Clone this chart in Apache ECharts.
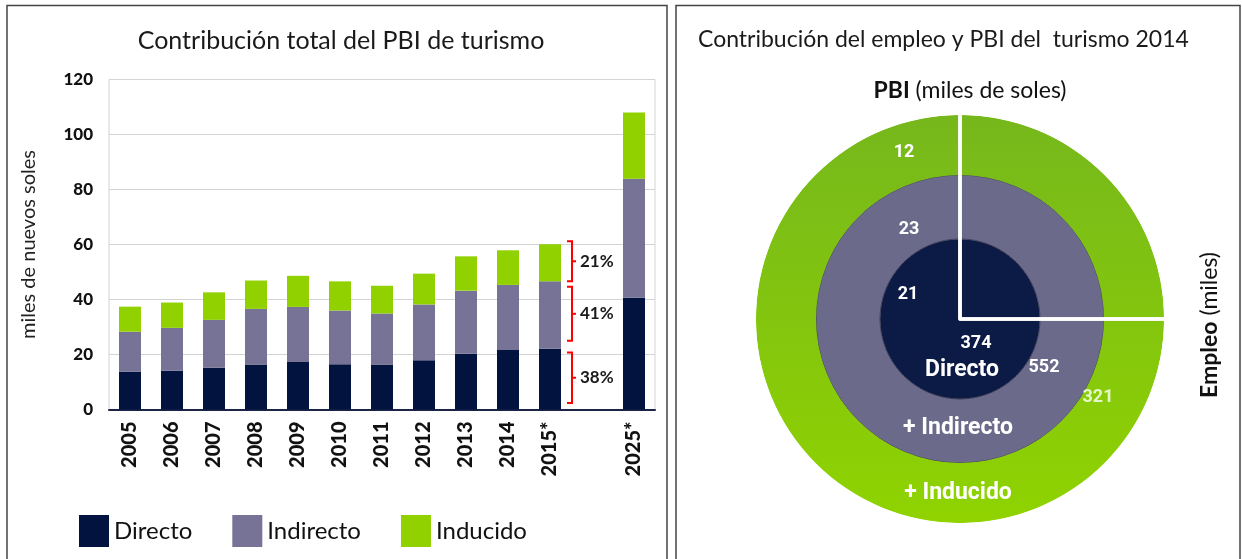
<!DOCTYPE html>
<html>
<head>
<meta charset="utf-8">
<script src="https://cdn.jsdelivr.net/npm/echarts@6/dist/echarts.min.js"></script>
<style>
  html, body { margin: 0; padding: 0; background: #fff; }
  #main { width: 1242px; height: 559px; }
</style>
</head>
<body>
<div id="main"></div>
<script>
// --- left chart data (miles de nuevos soles) ---
const years = ['2005', '2006', '2007', '2008', '2009', '2010', '2011', '2012', '2013', '2014', '2015*', '', '2025*'];
const directo = [13.7, 14.1, 15.2, 16.4, 17.3, 16.5, 16.4, 17.9, 20.3, 21.6, 22.1, '-', 40.6];
const indirecto = [14.6, 15.6, 17.4, 20.2, 20.0, 19.5, 18.5, 20.3, 22.9, 23.7, 24.5, '-', 43.3];
const inducido = [9.1, 9.2, 10.0, 10.3, 11.3, 10.6, 10.1, 11.2, 12.5, 12.6, 13.5, '-', 24.1];

// red brackets next to 2015
const shareLabels = ['38%', '41%', '21%'];
const shareLow = [2.4, 25.0, 46.6];
const shareHigh = [20.7, 44.6, 61.2];

// --- right chart data (2014) ---
const ringNames = ['Directo', '+ Indirecto', '+ Inducido'];
const pbiValues = [21, 23, 12];
const empleoValues = [374, 552, 321];

const FONT = 'Lato, "Open Sans", sans-serif';
const NARROW = '"Liberation Sans Narrow", "Roboto", sans-serif';

const colNavy = '#03133f';
const colGray = '#767396';
const colGreen = '#92d100';

let myChart = echarts.init(document.getElementById('main'));

// ring layout
const cx = 960, cy = 319;
const ringRadius = [[0, 80], [80, 144], [144, 204]];
const ringColors = ['#0c1a46', '#6b6a8b', new echarts.graphic.LinearGradient(0, 0, 0, 1, [
  { offset: 0, color: '#76b81c' }, { offset: 1, color: '#90d300' }
])];
const pbiPos = [[908, 294], [909, 229], [904, 152]];
const empPos = [[976, 343], [1044, 367], [1098, 397]];
const namePos = [[962, 370], [958, 428], [958, 493]];

let ringSeries = ringNames.map((n, i) => ({
  type: 'pie',
  name: n,
  center: [cx, cy],
  radius: ringRadius[i],
  silent: true,
  z: 1,
  label: { show: false },
  labelLine: { show: false },
  itemStyle: {
    color: ringColors[i],
    borderColor: i === 1 ? '#3d3d55' : 'transparent',
    borderWidth: i === 1 ? 1 : 0
  },
  data: [{ name: n, value: empleoValues[i] }]
}));

// white quadrant cut lines (top-right quarter)
ringSeries.push({
  type: 'pie',
  center: [cx, cy],
  radius: [0, 206],
  startAngle: 90,
  silent: true,
  z: 3,
  label: { show: false },
  labelLine: { show: false },
  itemStyle: { color: 'transparent', borderColor: '#ffffff', borderWidth: 3.5 },
  data: [{ value: 1 }, { value: 3 }]
});

let ringTexts = [];
ringNames.forEach((n, i) => {
  ringTexts.push({
    type: 'text', x: pbiPos[i][0], y: pbiPos[i][1], z: 10,
    style: { text: String(pbiValues[i]), fill: '#ffffff', font: 'bold 18px ' + NARROW, textAlign: 'center', textVerticalAlign: 'middle' }
  });
  ringTexts.push({
    type: 'text', x: empPos[i][0], y: empPos[i][1], z: 10,
    style: { text: String(empleoValues[i]), fill: i === 2 ? '#e6f5c8' : '#ffffff', font: 'bold 18px ' + NARROW, textAlign: 'center', textVerticalAlign: 'middle' }
  });
  ringTexts.push({
    type: 'text', x: namePos[i][0], y: namePos[i][1], z: 10,
    style: { text: n, fill: '#ffffff', font: 'bold 23px ' + NARROW, textAlign: 'center', textVerticalAlign: 'middle' }
  });
});

let options = {
  animation: false,
  textStyle: { fontFamily: FONT },
  graphic: [
    // panel frames
    { type: 'polyline', shape: { points: [[7, 560], [7, 5.5], [667, 5.5], [667, 560]] }, style: { stroke: '#444', lineWidth: 1.5, fill: null } },
    { type: 'polyline', shape: { points: [[676, 560], [676, 5.5], [1240, 5.5], [1240, 560]] }, style: { stroke: '#444', lineWidth: 1.5, fill: null } },
    { type: 'text', x: 341, y: 41, style: { text: 'Contribución total del PBI de turismo', font: '25px ' + FONT, fill: '#1a1a1a', textAlign: 'center', textVerticalAlign: 'middle' } },
    { type: 'text', x: 698, y: 40, style: { text: 'Contribución del empleo y PBI del  turismo 2014', font: '23px ' + FONT, fill: '#1a1a1a', textAlign: 'left', textVerticalAlign: 'middle' } },
    {
      type: 'text', x: 970, y: 91,
      style: {
        text: '{b|PBI} (miles de soles)', font: '23px ' + FONT, fill: '#111', textAlign: 'center', textVerticalAlign: 'middle',
        rich: { b: { fontWeight: 'bold', fontSize: 23, fontFamily: FONT, fill: '#111' } }
      }
    },
    {
      type: 'text', x: 1210, y: 325, rotation: Math.PI / 2,
      style: {
        text: '{b|Empleo} (miles)', font: '23px ' + FONT, fill: '#111', textAlign: 'center', textVerticalAlign: 'middle',
        rich: { b: { fontWeight: 'bold', fontSize: 23, fontFamily: FONT, fill: '#111' } }
      }
    }
  ].concat(ringTexts),
  legend: {
    data: ['Directo', 'Indirecto', 'Inducido'],
    left: 74,
    top: 510,
    icon: 'rect',
    itemWidth: 30,
    itemHeight: 32,
    itemGap: 40,
    textStyle: { fontSize: 24, color: '#111', fontFamily: FONT }
  },
  grid: { left: 109, right: 587, top: 79.5, bottom: 149.5, show: true, borderColor: '#d4d4d4', borderWidth: 1 },
  xAxis: {
    type: 'category',
    data: years,
    axisTick: { show: false },
    axisLine: { lineStyle: { color: '#1c2448', width: 2 } },
    axisLabel: { rotate: 90, interval: 0, margin: 12, fontSize: 20, fontWeight: 900, color: '#111', fontFamily: FONT }
  },
  yAxis: {
    type: 'value',
    min: 0,
    max: 120,
    interval: 20,
    name: 'miles de nuevos soles',
    nameLocation: 'middle',
    nameGap: 70,
    nameRotate: 90,
    nameTextStyle: { fontSize: 20, color: '#222', fontFamily: FONT },
    axisLabel: { fontSize: 17, fontWeight: 900, color: '#111', margin: 16, fontFamily: FONT },
    splitLine: { lineStyle: { color: '#d4d4d4' } }
  },
  series: [
    { name: 'Directo', type: 'bar', stack: 'pbi', barWidth: 22, itemStyle: { color: colNavy }, data: directo },
    { name: 'Indirecto', type: 'bar', stack: 'pbi', barWidth: 22, itemStyle: { color: colGray }, data: indirecto },
    { name: 'Inducido', type: 'bar', stack: 'pbi', barWidth: 22, itemStyle: { color: colGreen }, data: inducido },
    {
      type: 'custom',
      z: 5,
      silent: true,
      encode: { x: 0, y: [1, 2] },
      data: shareLow.map((lo, i) => [11, lo, shareHigh[i]]),
      renderItem: function (params, api) {
        let p1 = api.coord([api.value(0), api.value(1)]);
        let p2 = api.coord([api.value(0), api.value(2)]);
        let x = p1[0] - 20;
        let yb = p1[1], yt = p2[1], ym = (yb + yt) / 2;
        return {
          type: 'group',
          children: [
            { type: 'polyline', shape: { points: [[x - 5, yt], [x, yt], [x, yb], [x - 5, yb]] }, style: { stroke: '#ff0000', lineWidth: 2, fill: null } },
            { type: 'line', shape: { x1: x, y1: ym, x2: x + 4, y2: ym }, style: { stroke: '#ff0000', lineWidth: 2 } },
            { type: 'text', x: x + 8, y: ym, style: { text: shareLabels[params.dataIndex], font: 'bold 17px ' + FONT, fill: '#1a1a1a', textAlign: 'left', textVerticalAlign: 'middle' } }
          ]
        };
      }
    }
  ].concat(ringSeries)
};
myChart.setOption(options);
</script>
</body>
</html>
